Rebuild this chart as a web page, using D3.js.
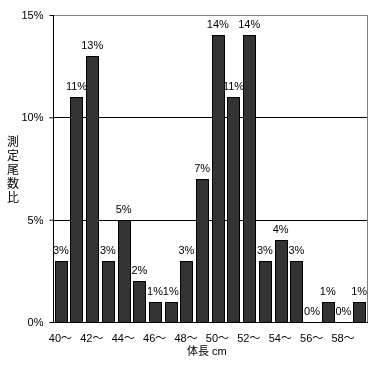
<!DOCTYPE html>
<html><head><meta charset="utf-8">
<script src="https://cdn.jsdelivr.net/npm/d3@7"></script>
<style>
body{margin:0;background:#fff;}
svg{will-change:transform;}
text{font-family:"Liberation Sans","Noto Sans CJK JP",sans-serif;font-size:11px;fill:#000;}
</style></head>
<body>
<svg id="c" width="382" height="367"></svg>
<script>
const categories = ["40〜","41〜","42〜","43〜","44〜","45〜","46〜","47〜","48〜","49〜","50〜","51〜","52〜","53〜","54〜","55〜","56〜","57〜","58〜","59〜"];
const values = [3,11,13,3,5,2,1,1,3,7,14,11,14,3,4,3,0,1,0,1];
const yTicks = [0,5,10,15];
const yTitle = "測定尾数比";
const xTitle = "体長 cm";

const svg = d3.select("#c");
const L=53, R=367, T=15, B=322;
const x = d3.scaleBand().domain(categories).range([L,R]).paddingInner(0.22).paddingOuter(0.11);
const y = d3.scaleLinear().domain([0,15]).range([B,T]);

// gridlines
svg.append("g").selectAll("line").data(yTicks.filter(t=>t>0&&t<15)).join("line")
  .attr("x1",L).attr("x2",R).attr("y1",d=>Math.round(y(d))+0.5).attr("y2",d=>Math.round(y(d))+0.5)
  .attr("stroke","#000");
// frame top/right gray
svg.append("line").attr("x1",L).attr("x2",R+0.5).attr("y1",T+0.5).attr("y2",T+0.5).attr("stroke","#808080");
svg.append("line").attr("x1",R+0.5).attr("x2",R+0.5).attr("y1",T).attr("y2",B).attr("stroke","#808080");

// bars
svg.append("g").selectAll("rect").data(values).join("rect")
  .attr("x",(d,i)=>Math.round(x(categories[i]))+0.5)
  .attr("y",d=>Math.round(y(d))+0.5)
  .attr("width",Math.round(x.bandwidth()))
  .attr("height",d=>Math.round(y(0))-Math.round(y(d)))
  .attr("fill","#333333").attr("stroke","#000").attr("stroke-width",1)
  .style("display",d=>d>0?null:"none");

// value labels
svg.append("g").selectAll("text").data(values).join("text")
  .attr("x",(d,i)=>x(categories[i])+x.bandwidth()/2)
  .attr("y",d=>y(d)-7)
  .attr("text-anchor","middle")
  .text(d=>d+"%");

// y axis
const ya = d3.axisLeft(y).tickValues(yTicks).tickSize(4).tickPadding(6).tickFormat(d=>d+"%");
const gy = svg.append("g").attr("transform",`translate(${L+0.5},0)`).call(ya);
gy.select(".domain").attr("stroke","#000").attr("d",`M0,${T}V${B+0.5}`);
gy.selectAll(".tick line").attr("stroke","#000");
gy.selectAll(".tick text").style("font-family","Liberation Sans,sans-serif").style("font-size","11px").attr("fill","#000");

// x axis line
svg.append("line").attr("x1",L).attr("x2",R+1).attr("y1",B+0.5).attr("y2",B+0.5).attr("stroke","#000");

// x labels (every other)
svg.append("g").selectAll("text").data(categories.filter((c,i)=>i%2===0)).join("text")
  .attr("x",d=>x(d)+x.bandwidth()/2-12)
  .attr("y",342)
  .text(d=>d);

// x title
svg.append("text").attr("x",187).attr("y",355).text(xTitle);

// y title vertical
svg.append("g").selectAll("text").data(Array.from(yTitle)).join("text")
  .attr("x",13).attr("y",(d,i)=>146+i*14)
  .attr("text-anchor","middle")
  .style("font-size","12px")
  .text(d=>d);
</script>
</body></html>
